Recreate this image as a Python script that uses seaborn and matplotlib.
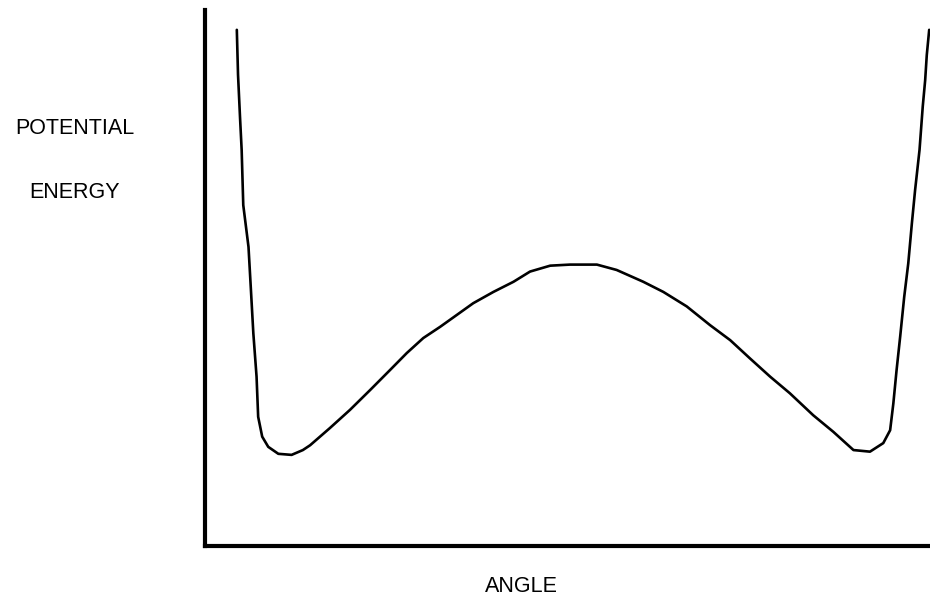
import numpy as np
import pandas as pd
import seaborn as sns
import matplotlib
matplotlib.use('Agg')
import matplotlib.pyplot as plt

# values (angle in degrees 0-180, energy in % of axis height)
angle = [7.9, 8.2, 8.7, 9.1, 9.5, 10.8, 11.4, 12.0, 12.8, 13.2, 14.2, 15.7,
         18.2, 21.5, 24.3, 26.1, 31.0, 36.0, 41.0, 45.9, 50.1, 54.2, 58.4,
         62.5, 66.6, 71.6, 76.6, 80.7, 85.7, 90.6, 97.3, 102.2, 108.8, 113.8,
         119.6, 125.4, 130.4, 135.3, 140.3, 145.2, 151.0, 156.0, 161.0, 165.1,
         168.4, 170.1, 170.9, 171.7, 172.6, 173.6, 174.6, 175.5, 176.3, 177.4,
         178.2, 178.8, 179.2, 179.8]
energy = [96.3, 87.9, 79.9, 73.9, 63.6, 55.8, 47.8, 39.7, 31.6, 24.1, 20.4, 18.5,
          17.2, 17.0, 17.9, 18.8, 22.0, 25.4, 29.1, 32.8, 36.0, 38.8, 40.9,
          43.1, 45.3, 47.4, 49.3, 51.2, 52.3, 52.5, 52.5, 51.5, 49.3, 47.4,
          44.7, 41.2, 38.4, 35.0, 31.6, 28.5, 24.4, 21.3, 17.9, 17.6,
          19.2, 21.6, 26.6, 32.8, 39.1, 46.5, 52.7, 60.2, 66.4, 73.9,
          82.0, 86.9, 91.6, 96.3]

df = pd.DataFrame({'angle': angle, 'energy': energy})

sns.set_style('white')
plt.rcParams['font.family'] = ['Liberation Sans', 'DejaVu Sans']

W, H = 930, 605
fig = plt.figure(figsize = (W / 100, H / 100), dpi = 100)
ax = fig.add_axes([205 / W, 59 / H, 725 / W, 536 / H])

sns.lineplot(data = df, x = 'angle', y = 'energy', sort = False,
             color = 'black', linewidth = 1.9, ax = ax)
ax.lines[0].set_solid_joinstyle('round')

ax.set_xlim(0, 180)
ax.set_ylim(0, 100)
ax.set_xticks([])
ax.set_yticks([])
ax.set_xlabel('')
ax.set_ylabel('')
sns.despine(ax = ax, top = True, right = True)
for s in ['left', 'bottom']:
    ax.spines[s].set_linewidth(3.0)
    ax.spines[s].set_color('black')

txt = dict(ha = 'center', va = 'center', fontsize = 15.5, color = 'black')
fig.text(75 / W, 1 - 128 / H, 'POTENTIAL', **txt)
fig.text(74 / W, 1 - 192 / H, 'ENERGY', **txt)
fig.text(521 / W, 1 - 587 / H, 'ANGLE', **txt)

plt.savefig('out.png', dpi = 100)
